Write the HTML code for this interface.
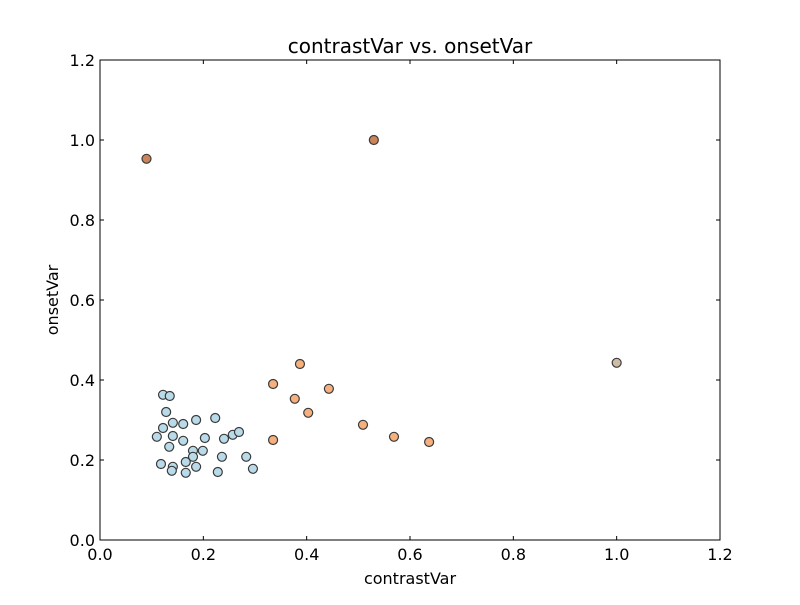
<!DOCTYPE html>
<html><head><meta charset="utf-8"><style>
body{margin:0;background:#fff;}
svg text{font-family:"DejaVu Sans","Liberation Sans",sans-serif;fill:#000;}
</style></head><body>
<svg id="chart" width="800" height="600" viewBox="0 0 800 600" xmlns="http://www.w3.org/2000/svg">
<rect width="800" height="600" fill="#fff"/>
<text x="410" y="53" font-size="20" text-anchor="middle">contrastVar vs. onsetVar</text>
<text x="410" y="584" font-size="16" text-anchor="middle">contrastVar</text>
<text x="58" y="300" font-size="16" text-anchor="middle" transform="rotate(-90 58 300)">onsetVar</text>
<g id="ticks"></g>
<g id="points"></g>
<rect x="100" y="60" width="620" height="480" fill="none" stroke="#000" stroke-width="1"/>
</svg>
<script>
const xTicks=[0,0.2,0.4,0.6,0.8,1.0,1.2];
const yTicks=[0,0.2,0.4,0.6,0.8,1.0,1.2];
const blueX=[0.122,0.135,0.128,0.141,0.161,0.186,0.223,0.122,0.141,0.161,0.110,0.134,0.203,0.240,0.257,0.269,0.180,0.199,0.180,0.236,0.283,0.118,0.141,0.166,0.139,0.166,0.186,0.228,0.296];
const blueY=[0.363,0.360,0.320,0.293,0.290,0.300,0.305,0.280,0.260,0.248,0.258,0.233,0.255,0.253,0.263,0.270,0.223,0.223,0.208,0.208,0.208,0.190,0.183,0.195,0.173,0.168,0.183,0.170,0.178];
const orangeX=[0.387,0.335,0.443,0.377,0.403,0.509,0.335,0.569,0.637];
const orangeY=[0.440,0.390,0.378,0.353,0.318,0.288,0.250,0.258,0.245];
const darkX=[0.09,0.53];
const darkY=[0.953,1.0];
const grayX=[1.0];
const grayY=[0.443];
const NS="http://www.w3.org/2000/svg";
function sx(v){return 100+v*620/1.2;}
function sy(v){return 540-v*480/1.2;}
const tg=document.getElementById('ticks');
function mk(tag,attrs,parent){const e=document.createElementNS(NS,tag);for(const k in attrs)e.setAttribute(k,attrs[k]);parent.appendChild(e);return e;}
xTicks.forEach(t=>{
  const x=sx(t);
  const a=mk('line',{x1:x,x2:x,y1:540,y2:536,stroke:'#000'},tg);
  
  
  const b=mk('line',{x1:x,x2:x,y1:60,y2:64,stroke:'#000'},tg);
  
  
  const l=mk('text',{x:x,y:560,'font-size':16,'text-anchor':'middle'},tg);
  l.textContent=t.toFixed(1);
  
  
});
yTicks.forEach(t=>{
  const y=sy(t);
  const a=mk('line',{x1:100,x2:104,y1:y,y2:y,stroke:'#000'},tg);
  
  
  const b=mk('line',{x1:716,x2:720,y1:y,y2:y,stroke:'#000'},tg);
  
  
  const l=mk('text',{x:95,y:y+6,'font-size':16,'text-anchor':'end'},tg);
  l.textContent=t.toFixed(1);
  
  
});
const pg=document.getElementById('points');
function series(xs,ys,fill,name){
  xs.forEach((v,i)=>{
    const c=mk('circle',{cx:sx(v),cy:sy(ys[i]),r:4.5,fill:fill,stroke:'#3a3a3a','stroke-width':1.2},pg);
    
    
  });
}
series(blueX,blueY,'#b9dbe9','point-cluster-blue');
series(orangeX,orangeY,'#f5b07d','point-cluster-orange');
series(darkX,darkY,'#cc845a','point-outlier-dark');
series(grayX,grayY,'#cdbda6','point-outlier-gray');
</script>
</body></html>
